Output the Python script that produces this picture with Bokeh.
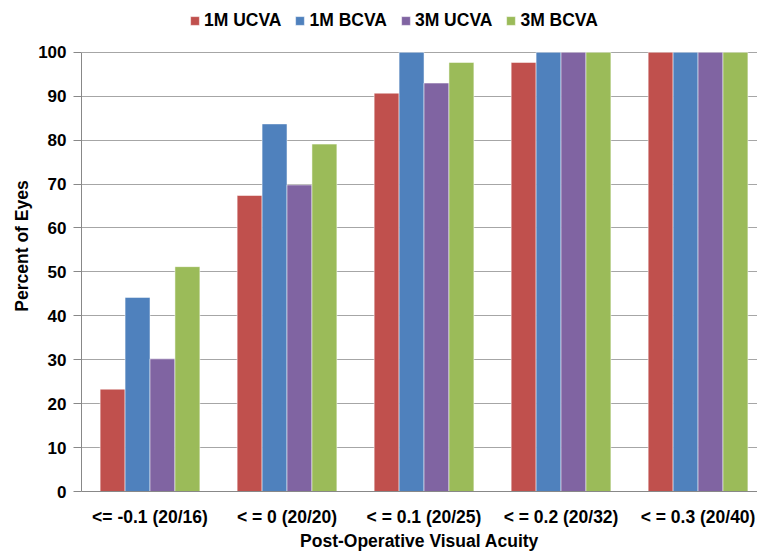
from bokeh.plotting import figure
from bokeh.models import (ColumnDataSource, FixedTicker, Legend, LegendItem, Range1d)
from bokeh.transform import dodge
from bokeh.embed import file_html
from bokeh.resources import INLINE

categories = ["<= -0.1 (20/16)", "< = 0 (20/20)", "< = 0.1 (20/25)",
              "< = 0.2 (20/32)", "< = 0.3 (20/40)"]
series_names = ["1M UCVA", "1M BCVA", "3M UCVA", "3M BCVA"]
ucva_1m = [23.3, 67.4, 90.7, 97.7, 100]
bcva_1m = [44.2, 83.7, 100, 100, 100]
ucva_3m = [30.2, 69.8, 93.0, 100, 100]
bcva_3m = [51.2, 79.1, 97.7, 100, 100]
colors = ["#C0504D", "#4F81BD", "#8064A2", "#9BBB59"]
y_ticks = list(range(0, 101, 10))

FONT = "Liberation Sans"

xpos = [i + 0.5 for i in range(len(categories))]
source = ColumnDataSource(dict(x=xpos, s0=ucva_1m, s1=bcva_1m, s2=ucva_3m, s3=bcva_3m))

# frame spans full height above the axis so the legend (drawn in the frame) is not clipped
p = figure(width=757, height=553, output_backend="svg", toolbar_location=None,
           x_range=Range1d(0, 4.934), y_range=Range1d(0, 111.8),
           min_border_left=81, min_border_top=0, min_border_bottom=61,
           min_border_right=0)
p.outline_line_color = None

bw = 0.182
offsets = [-1.5 * bw, -0.5 * bw, 0.5 * bw, 1.5 * bw]
renderers = []
for i, (col, off) in enumerate(zip(colors, offsets)):
    r = p.vbar(x=dodge("x", off, range=p.x_range), top="s%d" % i, width=bw,
               source=source, fill_color=col, line_color="white",
               line_alpha=0.5, line_width=1)
    renderers.append(r)

# axes
p.xaxis.ticker = FixedTicker(ticks=xpos)
p.xaxis.major_label_overrides = {x: c for x, c in zip(xpos, categories)}
p.xaxis.major_tick_out = 0
p.xaxis.major_tick_in = 0
p.xaxis.minor_tick_out = 0
p.xaxis.minor_tick_in = 0
p.xaxis.axis_line_color = "#888888"
p.xaxis.major_label_standoff = 15
p.xaxis.major_label_text_font = FONT
p.xaxis.major_label_text_font_style = "bold"
p.xaxis.major_label_text_font_size = "17.5px"
p.xaxis.major_label_text_color = "black"
p.xaxis.axis_label = "Post-Operative Visual Acuity"
p.xaxis.axis_label_text_font = FONT
p.xaxis.axis_label_text_font_style = "bold"
p.xaxis.axis_label_text_font_size = "17.5px"
p.xaxis.axis_label_text_color = "black"
p.xaxis.axis_label_standoff = 1

p.yaxis.ticker = FixedTicker(ticks=y_ticks)
p.yaxis.bounds = (0, 100)
p.yaxis.major_tick_out = 8
p.yaxis.major_tick_in = 0
p.yaxis.minor_tick_out = 0
p.yaxis.minor_tick_in = 0
p.yaxis.axis_line_color = "#888888"
p.yaxis.major_tick_line_color = "#888888"
p.yaxis.major_label_standoff = 7
p.yaxis.major_label_text_font = FONT
p.yaxis.major_label_text_font_style = "bold"
p.yaxis.major_label_text_font_size = "17px"
p.yaxis.major_label_text_color = "black"
p.yaxis.axis_label = "Percent of Eyes"
p.yaxis.axis_label_text_font = FONT
p.yaxis.axis_label_text_font_style = "bold"
p.yaxis.axis_label_text_font_size = "17.5px"
p.yaxis.axis_label_text_color = "black"
p.yaxis.axis_label_standoff = 3

p.xgrid.grid_line_color = None
p.ygrid.ticker = FixedTicker(ticks=y_ticks)
p.ygrid.bounds = (0, 100)
p.ygrid.grid_line_color = "#A6A6A6"
p.ygrid.grid_line_width = 1

legend = Legend(items=[LegendItem(label=n, renderers=[r]) for n, r in zip(series_names, renderers)],
                orientation="horizontal", location=(108, 460),
                glyph_width=11, glyph_height=11, label_standoff=4, spacing=13,
                padding=0, margin=0, border_line_color=None, background_fill_alpha=0,
                label_text_font=FONT, label_text_font_style="bold",
                label_text_font_size="17.5px", label_text_color="black")
p.add_layout(legend, "center")

open("out.html", "w").write(file_html(p, INLINE))
